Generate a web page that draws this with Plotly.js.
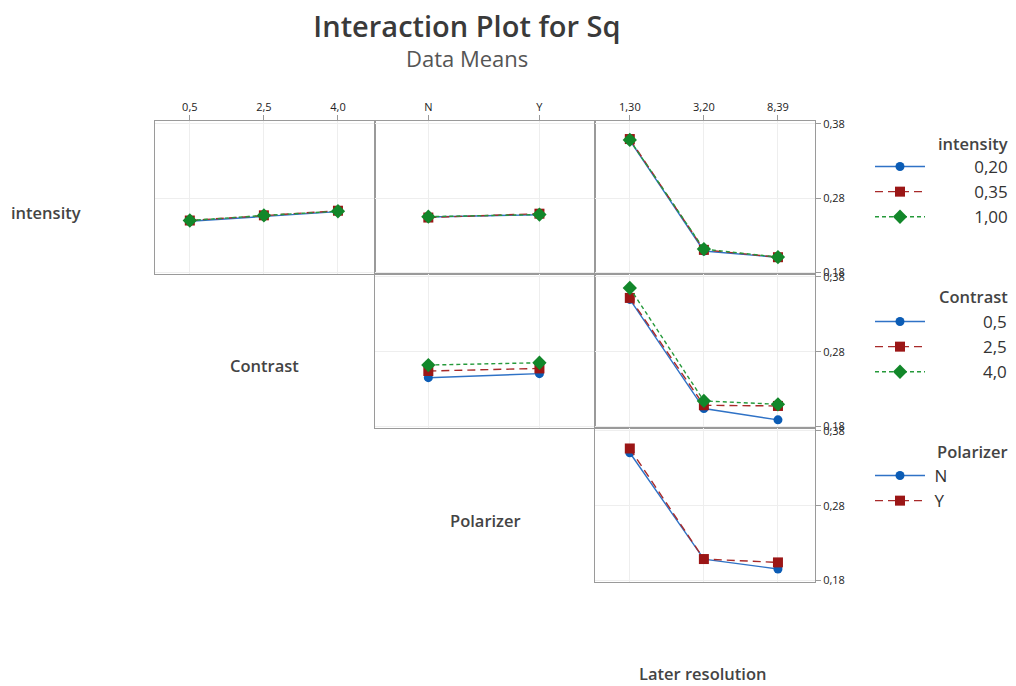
<!DOCTYPE html>
<html><head><meta charset="utf-8">
<script src="https://cdn.plot.ly/plotly-3.0.1.min.js"></script>
<style>body{margin:0;background:#fff}#chart{width:1016px;height:686px}</style>
</head><body><div id="chart"></div>
<script>
// ---- data ----
const contrastCats = ['0,5', '2,5', '4,0'];
const polarizerCats = ['N', 'Y'];
const resolutionCats = ['1,30', '3,20', '8,39'];
const intensityLevels = ['0,20', '0,35', '1,00'];
const contrastLevels = ['0,5', '2,5', '4,0'];
const polarizerLevels = ['N', 'Y'];

// intensity lines vs Contrast
const intByContrast020 = [0.2490, 0.2560, 0.2620];
const intByContrast035 = [0.2500, 0.2570, 0.2632];
const intByContrast100 = [0.2500, 0.2568, 0.2625];
// intensity lines vs Polarizer
const intByPolarizer020 = [0.2548, 0.2578];
const intByPolarizer035 = [0.2540, 0.2592];
const intByPolarizer100 = [0.2552, 0.2580];
// intensity lines vs Later resolution
const intByRes020 = [0.3580, 0.2090, 0.2005];
const intByRes035 = [0.3597, 0.2105, 0.2006];
const intByRes100 = [0.3585, 0.2115, 0.2008];
// Contrast lines vs Polarizer
const conByPolarizer05 = [0.2453, 0.2507];
const conByPolarizer25 = [0.2542, 0.2577];
const conByPolarizer40 = [0.2622, 0.2653];
// Contrast lines vs Later resolution
const conByRes05 = [0.3500, 0.2040, 0.1889];
const conByRes25 = [0.3520, 0.2084, 0.2075];
const conByRes40 = [0.3653, 0.2142, 0.2097];
// Polarizer lines vs Later resolution
const polByResN = [0.3509, 0.2085, 0.1954];
const polByResY = [0.3566, 0.2087, 0.2042];

// ---- styling ----
const W = 1016, H = 686;
const fx = v => v / W, fy = v => 1 - v / H;
const FONT = 'Open Sans, Noto Sans, sans-serif';
const pad = (n, s) => '\u00a0'.repeat(n) + s;
const styles = [
  {color: '#0B5CB5', line: '#2F72C6', symbol: 'circle', dash: 'solid', size: 9},
  {color: '#9B1616', line: '#A82A2A', symbol: 'square', dash: '8px,5px', size: 10},
  {color: '#12872A', line: '#25993A', symbol: 'diamond', dash: '4px,3px', size: 11}
];
function tr(x, y, k, xa, ya, name, legend, show) {
  const s = styles[k];
  return {x: x, y: y, xaxis: xa, yaxis: ya, name: name, legend: legend, showlegend: show,
    type: 'scatter', mode: 'lines+markers', hoverinfo: 'skip',
    line: {color: s.line, width: 1.4, dash: s.dash},
    marker: {color: s.color, symbol: s.symbol, size: s.size}};
}
const iN = intensityLevels.map(s => pad(10, s));
const cN = contrastLevels.map(s => pad(12, s));
const pN = polarizerLevels.map(s => pad(1, s));
const data = [
  tr(contrastCats, intByContrast020, 0, 'x', 'y', iN[0], 'legend', true),
  tr(contrastCats, intByContrast035, 1, 'x', 'y', iN[1], 'legend', true),
  tr(contrastCats, intByContrast100, 2, 'x', 'y', iN[2], 'legend', true),
  tr(polarizerCats, intByPolarizer020, 0, 'x2', 'y2', iN[0], 'legend', false),
  tr(polarizerCats, intByPolarizer035, 1, 'x2', 'y2', iN[1], 'legend', false),
  tr(polarizerCats, intByPolarizer100, 2, 'x2', 'y2', iN[2], 'legend', false),
  tr(resolutionCats, intByRes020, 0, 'x3', 'y3', iN[0], 'legend', false),
  tr(resolutionCats, intByRes035, 1, 'x3', 'y3', iN[1], 'legend', false),
  tr(resolutionCats, intByRes100, 2, 'x3', 'y3', iN[2], 'legend', false),
  tr(polarizerCats, conByPolarizer05, 0, 'x4', 'y4', cN[0], 'legend2', true),
  tr(polarizerCats, conByPolarizer25, 1, 'x4', 'y4', cN[1], 'legend2', true),
  tr(polarizerCats, conByPolarizer40, 2, 'x4', 'y4', cN[2], 'legend2', true),
  tr(resolutionCats, conByRes05, 0, 'x5', 'y5', cN[0], 'legend2', false),
  tr(resolutionCats, conByRes25, 1, 'x5', 'y5', cN[1], 'legend2', false),
  tr(resolutionCats, conByRes40, 2, 'x5', 'y5', cN[2], 'legend2', false),
  tr(resolutionCats, polByResN, 0, 'x6', 'y6', pN[0], 'legend3', true),
  tr(resolutionCats, polByResY, 1, 'x6', 'y6', pN[1], 'legend3', true)
];

const cols = [[155, 375], [375, 595], [595, 815]];
const rows = [[121, 274], [274, 428], [428, 582]];
const base = {showline: true, mirror: true, linecolor: '#9a9a9a', linewidth: 1,
  showgrid: true, gridcolor: '#eeeeee', gridwidth: 1, zeroline: false, fixedrange: true,
  tickfont: {family: FONT, size: 11, color: '#222'}, tickcolor: '#9a9a9a'};
function xax(col, row, cats, range, labels) {
  return Object.assign({}, base, {domain: [fx(cols[col][0]), fx(cols[col][1])], type: 'category',
    categoryorder: 'array', categoryarray: cats, range: range,
    side: 'top', showticklabels: labels, ticks: labels ? 'outside' : '', ticklen: 5});
}
function yax(col, row, labels, anchor) {
  return Object.assign({}, base, {domain: [fy(rows[row][1]), fy(rows[row][0])], range: [0.178, 0.384],
    tickvals: [0.18, 0.28, 0.38], tickformat: '.2f', side: 'right',
    showticklabels: labels, ticks: labels ? 'outside' : '', ticklen: 5, anchor: anchor});
}
const r3 = [-0.47, 2.5], r2 = [-0.48, 1.5];
const legBase = {xanchor: 'left', yanchor: 'top', itemwidth: 50,
  font: {family: FONT, size: 17, color: '#333'}, bgcolor: 'rgba(0,0,0,0)', tracegroupgap: 0};
const lab = {family: FONT, size: 16.5, color: '#444', weight: 600};
const layout = {
  width: W, height: H, margin: {l: 0, r: 0, t: 0, b: 0},
  paper_bgcolor: '#fff', plot_bgcolor: '#fff', separators: ',.',
  font: {family: FONT, color: '#333'},
  title: {text: 'Interaction Plot for Sq', font: {family: FONT, size: 29, color: '#3a3a3a', weight: 600},
    x: 467 / W, xanchor: 'center', y: 1 - 27 / H, yanchor: 'middle', yref: 'container', xref: 'container'},
  xaxis: Object.assign(xax(0, 0, contrastCats, r3, true), {anchor: 'y'}),
  xaxis2: Object.assign(xax(1, 0, polarizerCats, r2, true), {anchor: 'y2'}),
  xaxis3: Object.assign(xax(2, 0, resolutionCats, r3, true), {anchor: 'y3'}),
  xaxis4: Object.assign(xax(1, 1, polarizerCats, r2, false), {anchor: 'y4'}),
  xaxis5: Object.assign(xax(2, 1, resolutionCats, r3, false), {anchor: 'y5'}),
  xaxis6: Object.assign(xax(2, 2, resolutionCats, r3, false), {anchor: 'y6'}),
  yaxis: yax(0, 0, false, 'x'),
  yaxis2: yax(1, 0, false, 'x2'),
  yaxis3: yax(2, 0, true, 'x3'),
  yaxis4: yax(1, 1, false, 'x4'),
  yaxis5: yax(2, 1, true, 'x5'),
  yaxis6: yax(2, 2, true, 'x6'),
  legend: Object.assign({}, legBase, {x: fx(870), y: fy(149)}),
  legend2: Object.assign({}, legBase, {x: fx(870), y: fy(304)}),
  legend3: Object.assign({}, legBase, {x: fx(870), y: fy(458)}),
  annotations: [
    {text: 'Data Means', x: 467 / W, y: fy(58), font: {family: FONT, size: 22, color: '#555'}},
    {text: 'intensity', x: 46 / W, y: fy(212), font: lab},
    {text: 'Contrast', x: 264 / W, y: fy(365), font: lab},
    {text: 'Polarizer', x: 485 / W, y: fy(520), font: lab},
    {text: 'Later resolution', x: 702 / W, y: fy(673), font: lab},
    {text: 'intensity', x: 1010 / W, xanchor: 'right', y: fy(143), font: lab},
    {text: 'Contrast', x: 1010 / W, xanchor: 'right', y: fy(297), font: lab},
    {text: 'Polarizer', x: 935 / W, xanchor: 'left', y: fy(451), font: lab}
  ].map(a => Object.assign({xref: 'paper', yref: 'paper', showarrow: false, yanchor: 'middle'}, a.xanchor ? {} : {xanchor: 'center'}, a))
};
Plotly.newPlot('chart', data, layout, {staticPlot: true, displayModeBar: false});
</script>
</body></html>
